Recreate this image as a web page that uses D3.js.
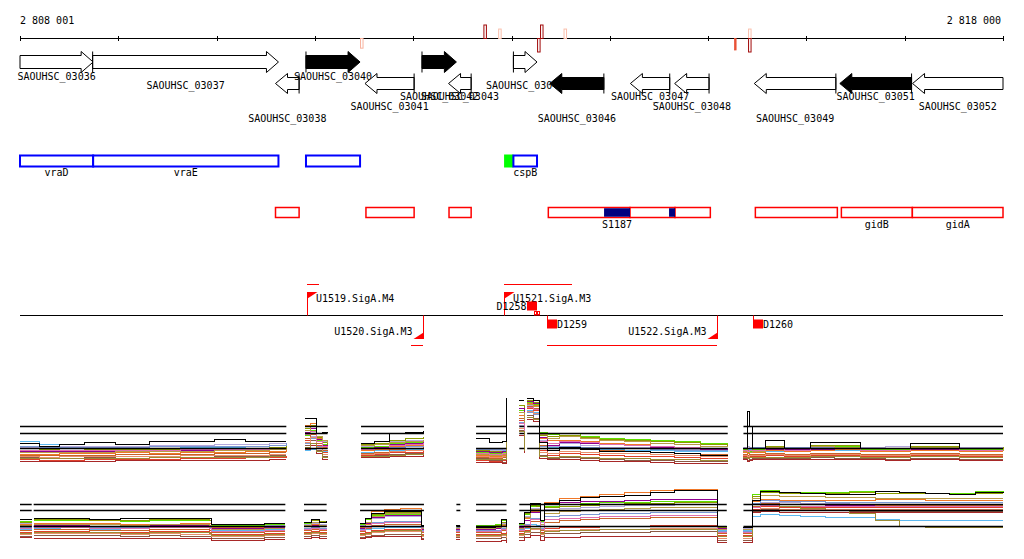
<!DOCTYPE html>
<html><head><meta charset="utf-8">
<script src="https://cdn.jsdelivr.net/npm/d3@7"></script>
<style>
html,body{margin:0;padding:0;background:#fff;}
svg{display:block;}
text{font-family:"DejaVu Sans Mono",monospace;font-size:10px;fill:#000;}
</style></head><body>
<svg id="chart" width="1024" height="559"></svg>
<script>
// ---------------- DATA ----------------
const viewStart = 2808001, viewEnd = 2818000;
const axisTicks = [2808001, 2809001, 2810001, 2811001, 2812001, 2813001, 2814001, 2815001, 2816001, 2817001, 2818000];

// variant marks on the coordinate axis
const markPos    = [2812730, 2812880, 2811475, 2813306, 2813276, 2813545, 2815280, 2815422, 2815422];
const markSide   = ["up", "up", "down", "up", "down", "up", "down", "up", "down"];
const markScore  = [1.0, 0.1, 0.15, 1.0, 1.0, 0.1, 0.55, 0.1, 1.0];
const markFilled = [false, false, false, false, false, false, true, false, false];

// genes
const geneNames   = ["SAOUHSC_03036","SAOUHSC_03037","SAOUHSC_03038","SAOUHSC_03040","SAOUHSC_03041","SAOUHSC_03042","SAOUHSC_03043","SAOUHSC_03044","SAOUHSC_03046","SAOUHSC_03047","SAOUHSC_03048","SAOUHSC_03049","SAOUHSC_03051","SAOUHSC_03052"];
const geneStarts  = [2807700, 2808740, 2810600, 2810910, 2811510, 2812090, 2812360, 2813020, 2813390, 2814210, 2814660, 2815470, 2816340, 2817080];
const geneEnds    = [2808745, 2810630, 2810840, 2811460, 2812010, 2812440, 2812590, 2813260, 2813940, 2814610, 2815010, 2816300, 2817070, 2818600];
const geneStrands = ["+","+","-","+","-","+","-","+","-","-","-","-","-","-"];
const geneMarked  = [false,false,false,true,false,true,false,false,true,false,false,false,true,false];
const geneLanes   = [0,1,4,0,3,2,2,1,4,2,3,4,2,3];

// forward annotation track
const fwdNames  = ["vraD", "vraE", "", "cspB"];
const fwdStarts = [2807700, 2808745, 2810910, 2813020];
const fwdEnds   = [2808745, 2810630, 2811460, 2813260];
const utrStarts = [2812925];
const utrEnds   = [2813020];

// reverse annotation track
const revNames  = ["", "", "", "", "", "", "", "gidB", "gidA"];
const revStarts = [2810600, 2811520, 2812365, 2813375, 2814206, 2814664, 2815481, 2816356, 2817078];
const revEnds   = [2810840, 2812010, 2812590, 2814206, 2814664, 2815023, 2816315, 2817078, 2818600];
const srnaNames  = ["S1187", ""];
const srnaStarts = [2813942, 2814603];
const srnaEnds   = [2814206, 2814664];

// promoters / transcript features
const tssNames    = ["U1519.SigA.M4", "U1520.SigA.M3", "U1521.SigA.M3", "U1522.SigA.M3"];
const tssPos      = [2810920, 2812100, 2812920, 2815090];
const tssStrand   = ["+", "-", "+", "-"];
const tssSpanFrom = [2810920, 2811980, 2812920, 2813360];
const tssSpanTo   = [2811040, 2812100, 2813615, 2815090];
const dNames  = ["D1258", "D1259", "D1260"];
const dPos    = [2813160, 2813360, 2815460];
const dStrand = ["+", "-", "-"];
const smallFeatPos = [2813230, 2813260];

// expression panel 1 (forward strand)
const topPos = [
 [2808001,2808200,2808400,2808660,2808970,2809320,2809630,2809980,2810290,2810540,2810710],
 [2810900,2810960,2811020,2811080,2811130],
 [2811470,2811610,2811760,2811920,2812110],
 [2812640,2812780,2812910,2812950],
 [2813080,2813130],
 [2813160,2813220,2813290,2813370,2813490,2813700,2813900,2814150,2814410,2814660,2814920,2815200],
 [2815360,2815400,2815420,2815450,2815580,2815780,2816040,2816290,2816550,2816800,2817060,2817310,2817560,2817820,2818000]
];
const topRefs = [44.5, 37.5, 22.5];
const topLightblue = [[30,27,25,24,24,23,24,24,25,26,27],[21,22,21,20,20],[19,21,21,22,22],[18,19,21,26],[36,26],[61,59,23,24,23,22,22,21,21,20,20,19],[21,22,22,21,20,20,21,21,20,20,21,21,20,20,20]];
const topLavender  = [[24,24,25,25,25,26,26,27,27,28,28],[31,35,31,30,30],[25,27,30,31,31],[23,21,22,41],[46,31],[66,63,31,25,28,26,24,24,23,22,21,20],[24,25,24,24,25,24,25,25,24,25,25,24,24,24,24]];
const topGreen     = [[20,19,20,20,21,21,21,22,22,23,24],[36,41,31,27,25],[24,25,28,29,30],[19,18,19,56],[61,41],[69,67,39,37,38,35,33,32,31,30,28,26],[22,19,20,22,23,22,24,25,22,22,23,23,22,22,23]];
const topOlive     = [[21,22,21,22,22,22,22,23,23,24,25],[43,46,34,29,26],[27,28,31,33,34],[21,20,20,66],[66,51],[71,69,36,35,36,34,32,31,30,29,27,25],[23,21,21,23,25,23,26,26,23,23,25,25,23,23,24]];
const topOrange    = [[17,17,18,18,19,18,19,19,20,20,21],[46,48,33,24,23],[21,22,25,26,27],[16,15,16,51],[56,36],[68,66,33,31,31,30,28,27,25,24,22,21],[19,18,19,19,21,20,21,22,20,20,21,21,20,20,20]];
const topRed       = [[12,11,11,12,12,12,13,13,14,14,15],[31,33,26,19,18],[16,17,19,19,20],[11,10,11,41],[51,31],[63,61,21,16,18,17,16,15,15,14,13,12],[15,14,15,15,16,15,16,16,15,15,16,16,15,15,15]];
const topBrown     = [[14,13,13,14,13,14,14,15,15,16,16],[26,31,21,15,13],[15,16,17,18,18],[13,11,9,31],[41,23],[56,53,16,13,14,13,12,11,11,10,10,9],[13,11,12,13,13,13,14,13,13,12,13,13,12,12,12]];
const topPurple    = [[20,20,20,20,20,21,21,21,22,22,22],[39,43,32,26,24],[23,24,27,28,29],[20,19,20,61],[63,43],[70,68,34,26,29,28,27,26,24,23,22,21],[21,20,21,21,22,22,22,23,21,21,22,22,21,21,21]];
const topSienna    = [[16,16,16,16,17,17,17,18,18,19,19],[33,37,28,21,20],[18,19,22,23,24],[14,13,14,46],[53,33],[65,63,26,21,23,22,21,20,19,18,17,16],[17,16,17,17,18,17,18,18,17,17,18,18,17,17,17]];
const topSteel     = [[25,24,24,24,24,25,25,25,25,26,28],[28,33,25,23,22],[22,23,24,25,25],[22,22,23,36],[49,29],[59,57,25,23,25,24,23,23,22,21,21,20],[23,23,23,24,23,24,24,24,23,23,24,24,23,23,23]];
const topKhaki     = [[19,19,19,19,20,20,20,21,21,22,23],[41,45,35,31,28],[26,27,29,30,31],[17,16,17,53],[59,39],[67,65,37,33,35,33,31,30,28,27,25,24],[20,21,19,20,24,21,25,24,21,21,24,24,21,21,22]];
const topSalmon    = [[15,14,15,15,15,15,16,16,16,17,17],[29,34,24,17,16],[17,18,20,21,21],[15,14,15,43],[43,25],[60,58,19,18,20,19,18,18,17,16,15,14],[16,15,16,16,17,16,17,17,16,16,17,17,16,16,16]];
const topDarkred   = [[10,10,10,10,11,11,11,11,11,12,12],[22,26,18,12,12],[14,14,15,15,16],[9,9,8,26],[36,18],[52,50,13,12,12,11,10,10,9,8,8,7],[12,10,11,12,12,12,12,12,12,11,12,12,11,11,11]];
const topPink      = [[21,21,21,21,21,21,22,22,22,23,23],[37,40,30,25,23],[22,23,26,27,28],[18,17,18,48],[48,38],[64,62,30,28,30,29,27,26,25,24,23,22],[21,20,21,21,23,21,23,23,21,21,23,23,21,21,21]];
const topOlive2    = [[13,13,13,13,13,14,14,14,14,15,15],[24,28,20,14,14],[15,15,16,17,17],[12,12,12,36],[40,20],[54,52,15,14,15,14,13,13,12,12,11,10],[14,13,14,14,14,14,15,15,14,14,15,15,14,14,14]];
const topBlack     = [[28,25,27,29,27,30,30,32,30,30,30],[53,53,38,39,39],[28,30,38,39,40],[33,29,30,73],[71,71],[73,71,29,21,24,22,20,20,19,18,16,16],[23,60,45,23,31,23,29,29,23,23,28,28,23,23,23]];

// expression panel 2 (reverse strand)
const botPos = [
 [2808001,2808120],
 [2808140,2808410,2808710,2809020,2809320,2809630,2809930,2809950,2810240,2810490,2810700],
 [2810890,2810970,2811050,2811120],
 [2811460,2811520,2811580,2811710,2811870,2812020,2812080,2812110],
 [2812440,2812480],
 [2812640,2812740,2812840,2812900,2812950],
 [2813080,2813130,2813190,2813250,2813300,2813340,2813490,2813700,2813900,2814150,2814410,2814660,2814920,2815060,2815100,2815190],
 [2815360,2815410,2815450,2815530,2815730,2815940,2816190,2816440,2816700,2816950,2817210,2817460,2817720,2818000]
];
const botRefs = [41.5, 35.5, 19.5];
const botLightblue = [[17,17],[18,17,17,18,17,17,18,16,16,17,17],[16,17,16,16],[16,17,18,19,19,19,15,15],[15,15],[16,16,16,18,15],[16,18,22,21,16,18,19,19,20,20,21,21,21,21,16,16],[16,16,30,32,31,30,29,29,27,26,26,26,26,26]];
const botLavender  = [[23,23],[23,23,22,22,22,23,23,20,20,21,21],[22,23,22,22],[21,24,28,30,30,30,19,19],[19,19],[20,20,21,23,20],[21,30,38,38,24,37,38,39,40,41,41,42,42,42,18,18],[18,18,40,44,44,43,43,42,42,42,42,41,41,41]];
const botGreen     = [[25,25],[26,26,26,25,26,26,26,21,21,22,22],[23,27,24,24],[22,27,31,32,32,32,20,20],[20,20],[21,21,22,26,19],[22,32,40,41,25,40,42,43,44,44,45,45,45,45,19,19],[19,19,52,56,54,54,54,55,55,54,53,53,55,54]];
const botOlive     = [[24,24],[27,27,26,26,27,27,26,22,22,23,23],[24,26,25,24],[23,28,32,34,34,34,21,21],[21,21],[20,20,21,24,20],[23,33,41,40,26,39,40,41,42,43,43,44,44,44,19,19],[19,19,50,54,53,53,53,54,53,53,53,52,53,53]];
const botOrange    = [[22,22],[23,23,23,22,22,23,23,19,19,20,20],[21,22,21,21],[19,22,35,37,38,38,18,18],[18,18],[18,18,19,21,18],[20,28,35,35,22,44,48,50,52,54,56,57,57,57,17,17],[17,17,45,47,46,46,46,46,47,47,46,46,46,46]];
const botRed       = [[14,14],[15,15,14,14,15,15,14,12,12,13,13],[14,15,14,14],[13,14,16,17,17,17,12,12],[12,12],[12,12,12,13,11],[13,16,20,20,14,18,19,19,20,20,21,21,21,21,11,11],[11,11,37,40,39,39,39,39,39,39,39,39,39,39]];
const botBrown     = [[10,10],[11,11,11,10,11,10,10,8,8,9,9],[10,11,10,10],[9,10,11,12,12,12,8,8],[9,9],[8,8,8,9,6],[9,12,14,14,10,13,13,14,14,14,15,15,15,15,6,6],[6,6,35,37,36,36,36,35,35,35,35,35,35,35]];
const botPurple    = [[20,20],[21,21,20,20,21,21,20,18,18,19,19],[20,21,20,20],[18,23,29,31,31,31,17,17],[17,17],[17,17,18,20,17],[19,26,34,34,20,42,44,45,45,46,47,47,47,47,18,18],[17,17,40,42,42,42,41,41,41,41,41,40,40,40]];
const botSienna    = [[16,16],[17,17,16,16,17,17,16,14,14,15,15],[16,17,16,16],[15,18,21,22,22,22,14,14],[14,14],[14,14,14,16,13],[15,19,25,25,16,24,26,27,28,28,29,29,29,29,13,13],[13,13,40,43,42,42,42,42,41,41,41,41,41,41]];
const botSteel     = [[19,19],[20,20,19,19,20,20,19,17,17,18,18],[18,19,18,18],[17,20,24,25,25,25,16,16],[16,16],[16,16,16,18,15],[17,22,28,28,18,30,31,32,33,33,34,34,34,34,15,15],[15,15,43,46,45,45,44,44,44,44,44,44,44,44]];
const botKhaki     = [[21,21],[22,22,22,21,22,22,21,17,17,18,18],[21,24,21,21],[20,24,30,33,33,33,18,18],[18,18],[18,18,19,22,17],[18,29,37,37,22,33,35,36,37,38,39,39,39,39,17,17],[17,17,48,51,50,50,49,49,48,48,48,48,48,48]];
const botSalmon    = [[12,12],[13,13,13,12,13,12,12,10,10,11,11],[12,13,12,12],[11,12,14,15,15,15,10,10],[10,10],[10,10,10,11,8],[11,14,17,17,12,16,16,17,17,17,18,18,18,18,8,8],[8,8,36,38,37,37,37,37,37,37,37,37,37,37]];
const botDarkred   = [[9,9],[8,8,8,8,8,8,8,6,6,7,7],[8,9,8,8],[8,9,10,10,10,10,7,7],[7,7],[5,5,5,6,3],[6,9,11,11,6,9,9,10,10,10,10,10,10,10,4,4],[4,4,34,35,34,34,34,34,34,34,34,34,34,34]];
const botPink      = [[18,18],[19,19,18,18,19,19,18,15,15,16,16],[17,18,17,17],[16,19,23,24,24,24,15,15],[15,15],[15,15,15,17,14],[16,21,27,27,17,27,28,29,30,30,31,31,31,31,14,14],[14,14,39,41,40,40,40,40,40,40,40,40,40,40]];
const botOlive2    = [[13,13],[14,14,14,13,14,14,13,11,11,12,12],[13,14,13,13],[12,13,15,16,16,16,11,11],[11,11],[11,11,11,12,10],[12,15,18,18,13,15,16,16,17,17,17,17,17,17,10,10],[10,10,42,42,40,38,36,33,26,20,19,19,19,19]];
const botBlack     = [[27,27],[28,28,27,28,28,28,28,22,22,23,23],[24,27,24,25],[23,28,33,35,35,35,21,21],[21,21],[19,19,20,27,19],[23,34,43,43,26,43,46,49,50,51,54,56,56,56,20,20],[19,19,46,55,54,53,52,52,55,54,53,52,54,53]];

const seriesColors = ["#5cb8f0","#b4a8dc","#5ee000","#8c9c00","#f07828","#e0402c","#8c5a46","#900090","#c86428","#7c98d4","#b89c48","#e8906c","#a82828","#e070b0","#9c8c34","#000000"];

// ---------------- DRAW ----------------
const svg = d3.select("#chart");
const x = d3.scaleLinear().domain([viewStart, viewEnd]).range([20, 1003]);
const L = 20, R = 1003;
const fmt = d3.formatLocale({decimal: ".", thousands: " ", grouping: [3], currency: ["", ""]}).format(",d");

// coordinate axis
const axisY = 38.5;
const ax = svg.append("g").attr("transform", "translate(0,36)")
  .call(d3.axisBottom(x).tickValues(axisTicks).tickSize(5).tickFormat(""));
ax.select(".domain").remove();
ax.selectAll(".tick line").attr("stroke", "#000").attr("shape-rendering", "crispEdges");
svg.append("line").attr("x1", L).attr("x2", R).attr("y1", axisY).attr("y2", axisY)
  .attr("stroke", "#000").attr("shape-rendering", "crispEdges");
svg.append("text").attr("x", x(viewStart)).attr("y", 24).text(fmt(viewStart));
svg.append("text").attr("x", x(viewEnd) - 2).attr("y", 24).attr("text-anchor", "end").text(fmt(viewEnd));

// variant marks
const markColor = d3.scaleLinear().domain([0, 0.5, 1]).range(["#fcd8c8", "#f05a3c", "#a00808"]);
markPos.forEach((p, i) => {
  const h = 9 + markScore[i] * 4.5;
  const c = markColor(markScore[i]);
  const y0 = markSide[i] === "up" ? axisY - h : axisY;
  svg.append("rect").attr("x", x(p) - 1).attr("y", y0).attr("width", markFilled[i] ? 1.5 : 2.5).attr("height", h)
    .attr("fill", markFilled[i] ? c : "#fff").attr("stroke", c).attr("stroke-width", markFilled[i] ? 0.8 : 1);
});

// genes
const rows = {
  "+": {hT: 51.5, bT: 55.5, mid: 62, bB: 68.5, hB: 72.5},
  "-": {hT: 73.5, bT: 77.5, mid: 83.5, bB: 89.5, hB: 93.5}
};
const laneY = [79.5, 88.5, 100, 110, 121.5];
const geneG = svg.append("g");
geneNames.forEach((name, i) => {
  const r = rows[geneStrands[i]];
  const xs = x(geneStarts[i]), xe = x(geneEnds[i]);
  const x0 = Math.max(xs, L), x1 = Math.min(xe, R);
  const H = 12;
  let p;
  if (geneStrands[i] === "+") {
    if (xe <= R) {
      const hx = Math.max(x0, x1 - H);
      p = `M${x0},${r.bT}H${hx}V${r.hT}L${x1},${r.mid}L${hx},${r.hB}V${r.bB}H${x0}Z`;
    } else p = `M${x0},${r.bT}H${x1}V${r.bB}H${x0}Z`;
  } else {
    if (xs >= L) {
      const hx = Math.min(x1, x0 + H);
      p = `M${x1},${r.bT}H${hx}V${r.hT}L${x0},${r.mid}L${hx},${r.hB}V${r.bB}H${x1}Z`;
    } else p = `M${x0},${r.bT}H${x1}V${r.bB}H${x0}Z`;
  }
  geneG.append("path").attr("d", p).attr("fill", geneMarked[i] ? "#000" : "#fff")
    .attr("stroke", "#000").attr("stroke-width", 1);
  const tickX = geneStrands[i] === "+" ? xs : xe;
  if (tickX >= L && tickX <= R) {
    geneG.append("line").attr("x1", tickX).attr("x2", tickX).attr("y1", r.hT).attr("y2", r.hB)
      .attr("stroke", "#000");
  }
  geneG.append("text").attr("x", (x0 + x1) / 2).attr("y", laneY[geneLanes[i]])
    .attr("text-anchor", "middle").text(name);
});

// forward annotation track
const fwdY = 155.5, fwdH = 11;
utrStarts.forEach((s, i) => {
  svg.append("rect").attr("x", x(s)).attr("y", fwdY - 1).attr("width", x(utrEnds[i]) - x(s)).attr("height", fwdH + 2)
    .attr("fill", "#00ff00");
});
fwdNames.forEach((n, i) => {
  const x0 = Math.max(x(fwdStarts[i]), L), x1 = Math.min(x(fwdEnds[i]), R);
  svg.append("rect").attr("x", x0).attr("y", fwdY).attr("width", x1 - x0).attr("height", fwdH)
    .attr("fill", "#fff").attr("stroke", "#0000ff").attr("stroke-width", 2);
  if (n) svg.append("text").attr("x", (x0 + x1) / 2).attr("y", 176).attr("text-anchor", "middle").text(n);
});

// reverse annotation track
const revY = 207.5, revH = 10;
revNames.forEach((n, i) => {
  const x0 = Math.max(x(revStarts[i]), L), x1 = Math.min(x(revEnds[i]), R);
  svg.append("rect").attr("x", x0).attr("y", revY).attr("width", x1 - x0).attr("height", revH)
    .attr("fill", "#fff").attr("stroke", "#ff0000").attr("stroke-width", 1.5);
  if (n) svg.append("text").attr("x", (x0 + x1) / 2).attr("y", 228).attr("text-anchor", "middle").text(n);
});
srnaNames.forEach((n, i) => {
  const x0 = x(srnaStarts[i]), x1 = x(srnaEnds[i]);
  svg.append("rect").attr("x", x0).attr("y", revY + 0.75).attr("width", x1 - x0).attr("height", revH - 1.5)
    .attr("fill", "#000080");
  if (n) svg.append("text").attr("x", (x0 + x1) / 2).attr("y", 228).attr("text-anchor", "middle").text(n);
});

// promoter / feature track
const tY = 315.5;
svg.append("line").attr("x1", L).attr("x2", R).attr("y1", tY).attr("y2", tY).attr("stroke", "#000")
  .attr("shape-rendering", "crispEdges");
const red = "#ff0000";
tssNames.forEach((n, i) => {
  const px = Math.round(x(tssPos[i])) + 0.5;
  const fwd = tssStrand[i] === "+";
  const tipY = fwd ? 292 : 339;
  svg.append("line").attr("x1", px).attr("x2", px).attr("y1", tY).attr("y2", tipY).attr("stroke", red);
  const tri = fwd ? `M${px},${tipY}H${px + 10}L${px},${tipY + 6.5}Z` : `M${px},${tipY}H${px - 10}L${px},${tipY - 6.5}Z`;
  svg.append("path").attr("d", tri).attr("fill", red);
  const by = fwd ? 284.5 : 345.5;
  svg.append("line").attr("x1", x(tssSpanFrom[i])).attr("x2", x(tssSpanTo[i])).attr("y1", by).attr("y2", by)
    .attr("stroke", red).attr("shape-rendering", "crispEdges");
  if (fwd) svg.append("text").attr("x", px + 8.5).attr("y", 302).text(n);
  else svg.append("text").attr("x", px - 11).attr("y", 335).attr("text-anchor", "end").text(n);
});
dNames.forEach((n, i) => {
  const px = Math.round(x(dPos[i]));
  if (dStrand[i] === "+") {
    svg.append("rect").attr("x", px).attr("y", 301.5).attr("width", 10).attr("height", 9).attr("fill", red);
    svg.append("text").attr("x", px - 0.5).attr("y", 309.5).attr("text-anchor", "end").text(n);
  } else {
    svg.append("line").attr("x1", px + 0.5).attr("x2", px + 0.5).attr("y1", tY).attr("y2", 320).attr("stroke", red);
    svg.append("rect").attr("x", px).attr("y", 319.5).attr("width", 10).attr("height", 9).attr("fill", red);
    svg.append("text").attr("x", px + 10).attr("y", 328).text(n);
  }
});
smallFeatPos.forEach(p => {
  svg.append("rect").attr("x", Math.round(x(p)) + 0.5).attr("y", 311.5).attr("width", 2).attr("height", 3.5)
    .attr("fill", "#fff").attr("stroke", red).attr("stroke-width", 1);
});

// expression panels
function drawPanel(posSegs, seriesList, refs, yScale) {
  const g = svg.append("g");
  const line = d3.line().defined(d => !d.gap).x(d => x(d.p)).y(d => yScale(d.v)).curve(d3.curveStepAfter);
  seriesList.forEach((vals, si) => {
    const pts = [];
    posSegs.forEach((seg, s) => {
      seg.forEach((p, k) => pts.push({p, v: vals[s][k]}));
      pts.push({gap: true});
    });
    g.append("path").datum(pts).attr("d", line).attr("fill", "none")
      .attr("stroke", seriesColors[si]).attr("stroke-width", 1).attr("shape-rendering", "crispEdges");
  });
  posSegs.forEach(seg => {
    refs.forEach(rv => {
      g.append("line").attr("x1", x(seg[0])).attr("x2", x(seg[seg.length - 1]))
        .attr("y1", yScale(rv)).attr("y2", yScale(rv)).attr("stroke", "#000").attr("stroke-width", 1.5);
    });
  });
}
const yTop = d3.scaleLinear().domain([0, 80]).range([471, 391]);
const yBot = d3.scaleLinear().domain([0, 60]).range([546, 486]);
drawPanel(topPos, [topLightblue, topLavender, topGreen, topOlive, topOrange, topRed, topBrown, topPurple, topSienna, topSteel, topKhaki, topSalmon, topDarkred, topPink, topOlive2, topBlack], topRefs, yTop);
drawPanel(botPos, [botLightblue, botLavender, botGreen, botOlive, botOrange, botRed, botBrown, botPurple, botSienna, botSteel, botKhaki, botSalmon, botDarkred, botPink, botOlive2, botBlack], botRefs, yBot);
</script>
</body></html>
